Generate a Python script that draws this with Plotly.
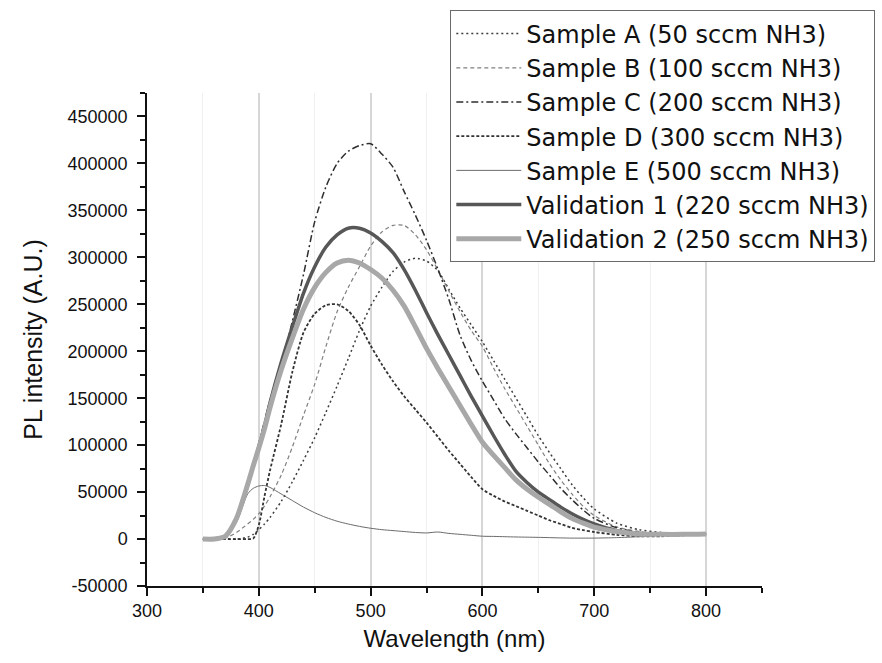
import plotly.graph_objects as go

# Wavelength grid (nm)
wavelength = [350, 360, 370, 380, 390, 395, 400, 405, 410, 420, 430, 440, 450, 460, 470, 480,
              490, 500, 510, 520, 530, 540, 550, 560, 570, 580, 590, 600, 610, 620, 630, 640,
              650, 660, 670, 680, 690, 700, 720, 740, 760, 780, 800]

sample_a = [0, 0, 0, 0, 2000, 5000, 10000, 16000, 23000, 40000, 61000, 84000, 108000, 135000,
            163000, 192000, 222000, 248000, 268000, 285000, 295000, 299000, 296000, 286000,
            266000, 246000, 228000, 210000, 190000, 170000, 150000, 130000, 110000, 92000,
            75000, 58000, 44000, 32000, 17000, 10000, 7000, 5500, 5500]

sample_b = [0, 0, 1000, 7000, 16000, 21000, 27000, 35000, 45000, 68000, 98000, 132000, 165000,
            205000, 242000, 268000, 290000, 312000, 327000, 334000, 334000, 324000, 308000,
            287000, 264000, 242000, 222000, 205000, 182000, 160000, 140000, 120000, 100000,
            80000, 63000, 48000, 35000, 25000, 13000, 8000, 6000, 5000, 5500]

sample_c = [0, 0, 3000, 22000, 58000, 80000, 102000, 125000, 148000, 185000, 232000, 282000,
            338000, 375000, 400000, 413000, 419000, 421000, 410000, 396000, 370000, 345000,
            318000, 288000, 255000, 217000, 190000, 168000, 148000, 128000, 112000, 97000,
            82000, 68000, 54000, 42000, 31000, 22000, 12000, 7000, 5000, 5000, 5500]

sample_d = [0, 0, 0, 0, 0, 500, 15000, 45000, 73000, 122000, 178000, 220000, 240000, 249000,
            250000, 243000, 228000, 206000, 186000, 168000, 152000, 138000, 124000, 109000,
            94000, 80000, 66000, 53000, 46000, 40000, 35000, 30000, 25000, 20000, 16000,
            12000, 9500, 7500, 4500, 3000, 3000, 4000, 5500]

sample_e = [0, 0, 2000, 17700, 48000, 54000, 56500, 57000, 55000, 48000, 41000, 34000, 28000,
            23000, 19000, 16000, 13500, 11500, 10000, 9000, 8000, 7000, 6500, 7500, 6000, 5000,
            4000, 3000, 2800, 2500, 2200, 2000, 1800, 1500, 1200, 1000, 1000, 1000, 1500, 2500,
            4000, 5000, 5500]

validation_1 = [0, 0, 3000, 22000, 58000, 78000, 98000, 120000, 145000, 188000, 226000, 262000,
                290000, 311000, 324000, 331000, 331000, 326000, 317000, 305000, 287000, 265000,
                241000, 218000, 196000, 174000, 152000, 131000, 110000, 90000, 72000, 60000,
                50000, 42000, 34000, 27000, 21000, 16000, 9000, 6000, 5000, 5000, 5500]

validation_2 = [0, 0, 3000, 22000, 58000, 78000, 97000, 117000, 140000, 180000, 214000, 245000,
                268000, 284000, 294000, 297000, 294000, 287000, 278000, 265000, 248000, 226000,
                203000, 182000, 162000, 142000, 122000, 103000, 89000, 76000, 63000, 53000,
                44500, 37000, 29000, 22000, 17000, 12700, 8000, 5500, 5000, 5000, 5500]

series_names = ["Sample A (50 sccm NH3)", "Sample B (100 sccm NH3)", "Sample C (200 sccm NH3)",
                "Sample D (300 sccm NH3)", "Sample E (500 sccm NH3)",
                "Validation 1 (220 sccm NH3)", "Validation 2 (250 sccm NH3)"]

y_tick_vals = [-50000, 0, 50000, 100000, 150000, 200000, 250000, 300000, 350000, 400000, 450000]
y_tick_text = ["-50000", "0", "50000", "100000", "150000", "200000", "250000", "300000",
               "350000", "400000", "450000"]

series_data = [sample_a, sample_b, sample_c, sample_d, sample_e, validation_1, validation_2]
styles = [
    dict(color="#3c3c3c", width=1.5, dash="2px,3px"),
    dict(color="#808080", width=1.2, dash="4px,3px"),
    dict(color="#2e2e2e", width=1.5, dash="7px,3px,2px,3px"),
    dict(color="#333333", width=1.8, dash="3px,2px"),
    dict(color="#6a6a6a", width=1.0, dash="solid"),
    dict(color="#575757", width=3.5, dash="solid"),
    dict(color="#a8a8a8", width=5.0, dash="solid"),
]

FONT = "Liberation Sans, Arial, sans-serif"
LEGEND_FONT = "DejaVu Sans, Liberation Sans, sans-serif"

fig = go.Figure()
for name, ys, st in zip(series_names, series_data, styles):
    fig.add_trace(go.Scatter(
        x=wavelength, y=ys, mode="lines", name=name,
        line=dict(color=st["color"], width=st["width"], dash=st["dash"],
                  shape="spline", smoothing=0.7),
    ))

fig.update_layout(
    width=882, height=663,
    margin=dict(l=147, r=120, t=93, b=77, autoexpand=False),
    paper_bgcolor="white", plot_bgcolor="white",
    font=dict(family=FONT, color="#111111"),
    showlegend=True,
    legend=dict(
        x=0.4927, y=1.168, xanchor="left", yanchor="top",
        bgcolor="white", bordercolor="#6a6a6a", borderwidth=1.3,
        font=dict(family=LEGEND_FONT, size=24, color="#111111"),
        itemwidth=65, tracegroupgap=0,
    ),
)

fig.update_xaxes(
    range=[300, 850], tickmode="linear", tick0=300, dtick=100,
    ticks="outside", ticklen=8, tickwidth=1.5, tickcolor="#111111",
    showline=True, linecolor="#111111", linewidth=1.5,
    showgrid=True, gridcolor="#d6d6d6", gridwidth=1.5, zeroline=False,
    tickfont=dict(family=FONT, size=18, color="#111111"),
    title=dict(text="Wavelength (nm)", font=dict(family=FONT, size=24, color="#111111"),
               standoff=10),
    minor=dict(tickmode="linear", tick0=300, dtick=50, ticks="outside", ticklen=5,
               tickwidth=1.5, tickcolor="#111111", showgrid=True, gridcolor="#f0f0f0",
               gridwidth=1),
)

fig.update_yaxes(
    range=[-50000, 475000], tickmode="array", tickvals=y_tick_vals, ticktext=y_tick_text,
    ticks="outside", ticklen=8, tickwidth=1.5, tickcolor="#111111",
    showline=True, linecolor="#111111", linewidth=1.5,
    showgrid=False, zeroline=False, ticklabelstandoff=6,
    tickfont=dict(family=FONT, size=18, color="#111111"),
    title=dict(text="PL intensity (A.U.)", font=dict(family=FONT, size=25, color="#111111"),
               standoff=18),
    minor=dict(tickmode="linear", tick0=0, dtick=25000, ticks="outside", ticklen=5,
               tickwidth=1.5, tickcolor="#111111", showgrid=False),
)

fig.write_html("out.html")
